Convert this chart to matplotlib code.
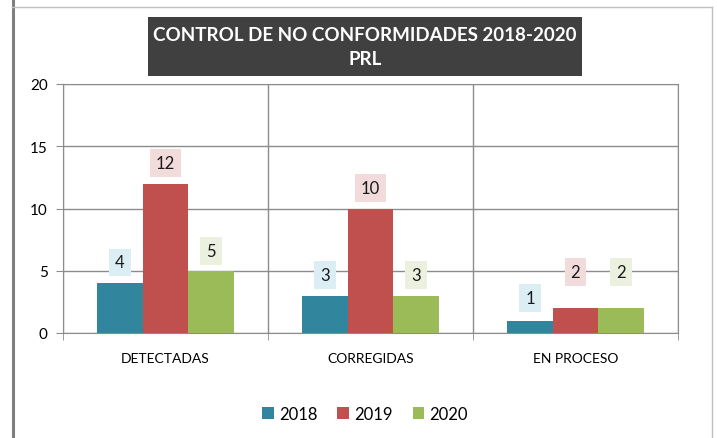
import numpy as np
import matplotlib.pyplot as plt
from matplotlib.patches import Rectangle
from matplotlib.lines import Line2D

categories = ['DETECTADAS', 'CORREGIDAS', 'EN PROCESO']
years = ['2018', '2019', '2020']
v2018 = [4, 3, 1]
v2019 = [12, 10, 2]
v2020 = [5, 3, 2]

colors = ['#31859c', '#c0504d', '#9bbb59']
label_bg = ['#dbeef4', '#f2dcdb', '#ebf1de']
# label offsets above bar tops (points); the last group is nudged higher like in the original
offsets = [[15, 15, 16], [15, 15, 26], [14, 15, 26]]

plt.rcParams['font.family'] = ['Lato', 'DejaVu Sans']

fig = plt.figure(figsize=(7.17, 4.39), dpi=100)
W, H = 717, 439
ax = fig.add_axes([63 / W, 1 - 334 / H, (678 - 63) / W, (334 - 85) / H])

x = np.arange(len(categories))
bw = 0.222
grid_c = '#8c8c8c'
for i, (vals, c, bg) in enumerate(zip([v2018, v2019, v2020], colors, label_bg)):
    pos = x + (i - 1) * bw
    ax.bar(pos, vals, bw, color=c, label=years[i], zorder=3)
    for px, v, off in zip(pos, vals, offsets[i]):
        ax.annotate(str(v), (px, v), xytext=(0, off), textcoords='offset points',
                    ha='center', va='center', fontsize=12, color='#1a1a1a',
                    bbox=dict(boxstyle='square,pad=0.35', fc=bg, ec='none'), zorder=4)

ax.set_xlim(-0.5, 2.5)
ax.set_ylim(0, 20)
ax.set_yticks([0, 5, 10, 15, 20])
ax.set_xticks(x)
ax.set_xticklabels(categories, fontsize=10)
ax.set_xticks([-0.5, 0.5, 1.5, 2.5], minor=True)
ax.tick_params(axis='x', which='major', length=0, pad=14)
ax.tick_params(axis='x', which='minor', length=5, color=grid_c, direction='out')
ax.tick_params(axis='y', length=5, color=grid_c, labelsize=11, pad=6)
ax.grid(axis='y', color=grid_c, lw=1, zorder=0)
ax.grid(axis='x', which='minor', color=grid_c, lw=1, zorder=0)
for s in ax.spines.values():
    s.set_color(grid_c)

ax.legend(loc='center', bbox_to_anchor=(365 / W, 1 - 415 / H), bbox_transform=fig.transFigure,
          ncol=3, frameon=False, fontsize=12, handlelength=0.7, handleheight=0.7,
          handletextpad=0.3, columnspacing=1.2)

# title box
fig.patches.append(Rectangle((148 / W, 1 - 77 / H), (582 - 148) / W, (77 - 18) / H,
                             transform=fig.transFigure, fc='#404040', ec='none'))
fig.text(365 / W, 1 - 47.5 / H, 'CONTROL DE NO CONFORMIDADES 2018-2020\nPRL',
         ha='center', va='center', color='white', fontsize=13.5, fontweight='bold',
         linespacing=1.55)

# outer chart frame
fig.lines.append(Line2D([13 / W, 13 / W], [0, 1], transform=fig.transFigure, color='#7f7f7f', lw=2.2))
fig.lines.append(Line2D([12 / W, 712 / W], [1 - 8 / H, 1 - 8 / H], transform=fig.transFigure, color='#bfbfbf', lw=1))
fig.lines.append(Line2D([712 / W, 712 / W], [0, 1 - 8 / H], transform=fig.transFigure, color='#bfbfbf', lw=1))

fig.savefig('out.png', dpi=100)
